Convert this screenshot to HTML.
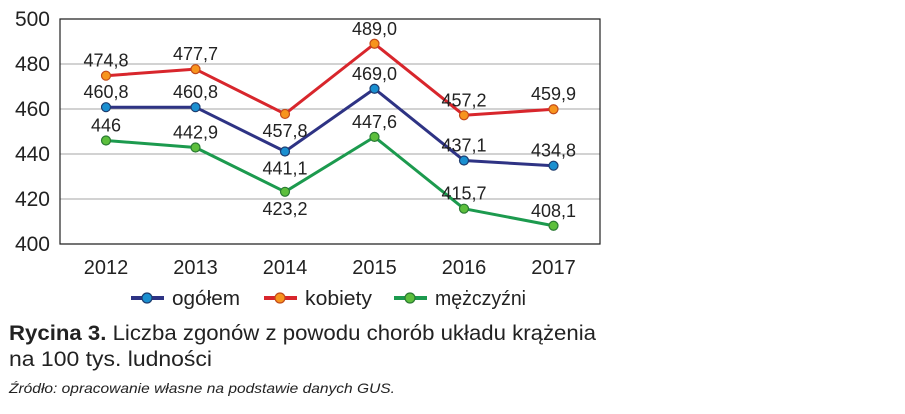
<!DOCTYPE html>
<html><head><meta charset="utf-8"><style>
body{margin:0;background:#fff;width:905px;height:409px;overflow:hidden;font-family:"Liberation Sans","DejaVu Sans",sans-serif}
svg text{font-family:"Liberation Sans","DejaVu Sans",sans-serif}
</style></head><body>
<svg id="chart" width="905" height="409" xmlns="http://www.w3.org/2000/svg">
<g id="grid"></g><g id="axes"></g><g id="series"></g><g id="labels"></g>
<g id="legend">
 <g><line x1="131" y1="298" x2="164" y2="298" stroke="#2e3384" stroke-width="4"/><circle cx="147" cy="298" r="5" fill="#1a8fd0" stroke="#1d3c6e" stroke-width="1.2"/><text x="172" y="305" font-size="20" fill="#222" textLength="68" lengthAdjust="spacingAndGlyphs">ogółem</text></g>
 <g><line x1="264" y1="298" x2="297" y2="298" stroke="#d8262c" stroke-width="4"/><circle cx="280" cy="298" r="5" fill="#f7941d" stroke="#c24a1a" stroke-width="1.2"/><text x="305" y="305" font-size="20" fill="#222" textLength="67" lengthAdjust="spacingAndGlyphs">kobiety</text></g>
 <g><line x1="394" y1="298" x2="427" y2="298" stroke="#1c9a4e" stroke-width="4"/><circle cx="410" cy="298" r="5" fill="#5cbf3c" stroke="#2a7a33" stroke-width="1.2"/><text x="435" y="305" font-size="20" fill="#222" textLength="91" lengthAdjust="spacingAndGlyphs">mężczyźni</text></g>
</g>
<text x="9" y="340" font-size="21" fill="#222" textLength="587" lengthAdjust="spacingAndGlyphs"><tspan font-weight="bold">Rycina 3.</tspan> Liczba zgonów z powodu chorób układu krążenia</text>
<text x="9" y="366" font-size="21" fill="#222" textLength="203" lengthAdjust="spacingAndGlyphs">na 100 tys. ludności</text>
<text x="9" y="393" font-size="14" font-style="italic" fill="#222" textLength="386" lengthAdjust="spacingAndGlyphs">Źródło: opracowanie własne na podstawie danych GUS.</text>
</svg>
<script>
const years=["2012","2013","2014","2015","2016","2017"];
const ogolem=[460.8,460.8,441.1,469.0,437.1,434.8];
const kobiety=[474.8,477.7,457.8,489.0,457.2,459.9];
const mezczyzni=[446,442.9,423.2,447.6,415.7,408.1];
const yTicks=[400,420,440,460,480,500];
const ogolemPos=["above","above","below","above","above","above"];
const kobietyPos=["above","above","below","above","above","above"];
const mezczyzniPos=["above","above","below","above","above","above"];
const L=60,R=600,T=19,B=244,ymin=400,ymax=500;
const x=i=>106+i*89.5;
const y=v=>B-(v-ymin)/(ymax-ymin)*(B-T);
const NS="http://www.w3.org/2000/svg";
function mk(tag,attrs,parent){const e=document.createElementNS(NS,tag);for(const k in attrs)e.setAttribute(k,attrs[k]);document.getElementById(parent).appendChild(e);return e;}
yTicks.forEach(t=>{
 if(t>ymin&&t<ymax){const g=mk("line",{x1:L,x2:R,y1:y(t),y2:y(t),stroke:"#a6a6a6","stroke-width":1},"grid");
 
 }
 const tx=mk("text",{x:50,y:y(t)+7,"font-size":21,"text-anchor":"end",fill:"#222"},"axes");tx.textContent=t;
 
 
});
const ax=mk("path",{d:`M${L} ${T}H${R}V${B}H${L}Z`,fill:"none",stroke:"#222","stroke-width":1.2},"axes");


years.forEach((yr,i)=>{const t=mk("text",{x:x(i),y:274,"font-size":20,"text-anchor":"middle",fill:"#222"},"axes");t.textContent=yr;
 
 });
const fmt=v=>v===446?"446":v.toFixed(1).replace(".",",");
function series(name,vals,pos,line,fill,stroke){
 const p=mk("polyline",{points:vals.map((v,i)=>x(i)+","+y(v)).join(" "),fill:"none",stroke:line,"stroke-width":3,"stroke-linejoin":"round"},"series");
 
 
 vals.forEach((v,i)=>{
  const c=mk("circle",{cx:x(i),cy:y(v),r:4.5,fill:fill,stroke:stroke,"stroke-width":1.2},"series");
  
  
  const ly=pos[i]==="above"?y(v)-9:y(v)+23;
  const t=mk("text",{x:x(i),y:ly,"font-size":18,"text-anchor":"middle",fill:"#222"},"labels");
  t.textContent=fmt(v);
  
  
 });
}
series("kobiety",kobiety,kobietyPos,"#d8262c","#f7941d","#c24a1a");
series("ogolem",ogolem,ogolemPos,"#2e3384","#1a8fd0","#1d3c6e");
series("mezczyzni",mezczyzni,mezczyzniPos,"#1c9a4e","#5cbf3c","#2a7a33");
</script>
</body></html>
